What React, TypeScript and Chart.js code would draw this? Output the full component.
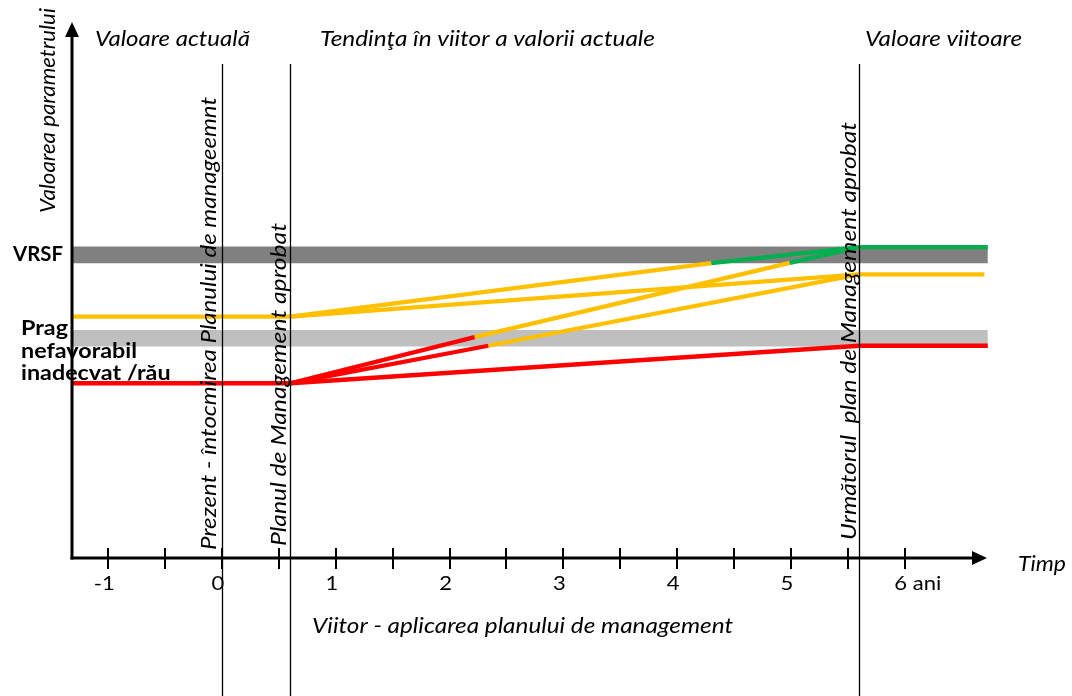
import React, { useEffect, useRef } from "react";
import { Chart, registerables } from "chart.js";

Chart.register(...registerables);

// ---------- DATA ----------
const X_MIN = -1.318;
const X_MAX = 6.749;
const Y_MIN = 0;
const Y_MAX = 100;

const tickValues = [-1, -0.5, 0, 0.5, 1, 1.5, 2, 2.5, 3, 3.5, 4, 4.5, 5, 5.5, 6];
const tickLabelValues = [-1, 0, 1, 2, 3, 4, 5, 6];
const tickLabels = ["-1", "0", "1", "2", "3", "4", "5", "6 ani"];

const markerX = [0, 0.6, 5.6];
const markerLabels = [
  "Prezent - întocmirea Planului de manageemnt",
  "Planul de Management aprobat",
  "Următorul  plan de Management aprobat",
];

const bandX = [-1.318, 6.73];
const vrsfBand = [55.0, 58.1];
const pragBand = [39.45, 42.55];

const currentYellow = [[-1.31, 45.05], [0.6, 45.05]];
const currentRed = [[-1.31, 32.6], [0.6, 32.6]];

const s1Yellow = [[0.6, 45.05], [4.3, 55.0]];
const s1Green = [[4.3, 55.0], [5.6, 58.0]];
const s2Yellow = [[0.6, 45.05], [5.6, 52.9]];
const s3Red = [[0.6, 32.6], [2.22, 41.2]];
const s3Yellow = [[2.22, 41.2], [4.99, 55.05]];
const s3Green = [[4.99, 55.05], [5.6, 58.0]];
const s4Red = [[0.6, 32.6], [2.34, 39.6]];
const s4Yellow = [[2.34, 39.6], [5.6, 52.9]];
const s5Red = [[0.6, 32.6], [5.6, 39.6]];

const futureGreen = [[5.6, 58.0], [6.73, 58.0]];
const futureYellow = [[5.6, 52.9], [6.7, 52.9]];
const futureRed = [[5.6, 39.6], [6.73, 39.6]];

// ---------- STYLE / LAYOUT ----------
const FONT = 'Lato, "Open Sans", sans-serif';
const YELLOW = "#FFC000";
const RED = "#FF0000";
const GREEN = "#00B050";
const DARK = "#808080";
const LIGHT = "#BFBFBF";

const headerTexts = [
  { text: "Valoare actuală", x: 95, y: 46, w: 155 },
  { text: "Tendinţa în viitor a valorii actuale", x: 320, y: 46, w: 335 },
  { text: "Valoare viitoare", x: 865, y: 46, w: 157 },
];
const markerTextLayout = [
  { dx: -6, y0: 550, w: 453 },
  { dx: -4, y0: 546, w: 323 },
  { dx: -3, y0: 540, w: 418 },
];

function pts(a: number[][]) {
  return a.map(([x, y]) => ({ x, y }));
}

function lineDs(a: number[][], color: string, order = 1) {
  return {
    data: pts(a),
    borderColor: color,
    borderWidth: 4.3,
    pointRadius: 0,
    fill: false,
    order,
    borderCapStyle: "butt",
  } as any;
}

function bandDs(band: number[], color: string) {
  return {
    data: bandX.map((x) => ({ x, y: band[1] })),
    borderColor: "rgba(0,0,0,0)",
    borderWidth: 0,
    pointRadius: 0,
    backgroundColor: color,
    fill: { value: band[0] },
    order: 20,
  } as any;
}

// draw text at a given font size, horizontally scaled to a target width
function drawText(
  c: CanvasRenderingContext2D,
  text: string,
  x: number,
  y: number,
  size: number,
  style: string,
  weight: string,
  target: number,
  rotate = false,
  align: CanvasTextAlign = "left"
) {
  c.save();
  c.font = `${style} ${weight} ${size}px ${FONT}`;
  const w = c.measureText(text).width;
  const sx = target > 0 ? target / w : 1;
  c.translate(x, y);
  if (rotate) c.rotate(-Math.PI / 2);
  c.scale(sx, 1);
  c.textAlign = align;
  c.textBaseline = "alphabetic";
  c.fillText(text, 0, 0);
  c.restore();
}

const overlay = {
  id: "overlay",
  afterDatasetsDraw(chart: any) {
    const { ctx, chartArea: ca, scales } = chart;
    const xs = scales.x;
    const c = ctx as CanvasRenderingContext2D;
    c.save();
    c.fillStyle = "#000";
    c.strokeStyle = "#000";

    // marker vertical lines
    c.lineWidth = 1.3;
    markerX.forEach((v) => {
      const px = Math.round(xs.getPixelForValue(v)) + 0.5;
      c.beginPath();
      c.moveTo(px, 64);
      c.lineTo(px, 696);
      c.stroke();
    });

    // marker labels (rotated)
    markerX.forEach((v, i) => {
      const L = markerTextLayout[i];
      drawText(c, markerLabels[i], xs.getPixelForValue(v) + L.dx, L.y0, 21, "italic", "normal", L.w, true);
    });

    // axes
    const x0 = ca.left;
    const yb = ca.bottom;
    const tip = ca.right - 3;
    c.lineWidth = 3;
    c.beginPath();
    c.moveTo(x0, yb + 1.5);
    c.lineTo(x0, ca.top + 12);
    c.stroke();
    c.beginPath();
    c.moveTo(x0, ca.top);
    c.lineTo(x0 - 7, ca.top + 15);
    c.lineTo(x0 + 7, ca.top + 15);
    c.closePath();
    c.fill();

    c.beginPath();
    c.moveTo(x0 - 1.5, yb);
    c.lineTo(tip - 12, yb);
    c.stroke();
    c.beginPath();
    c.moveTo(tip, yb);
    c.lineTo(tip - 15, yb - 7);
    c.lineTo(tip - 15, yb + 7);
    c.closePath();
    c.fill();

    // ticks
    c.lineWidth = 2;
    tickValues.forEach((v) => {
      const px = Math.round(xs.getPixelForValue(v));
      c.beginPath();
      c.moveTo(px, yb - 10);
      c.lineTo(px, yb + 11);
      c.stroke();
    });

    // tick labels
    const TS = 20;
    c.font = `normal normal ${TS}px ${FONT}`;
    const sixW = c.measureText("6 ani").width;
    const tsx = 47 / sixW;
    tickLabelValues.forEach((v, i) => {
      const px = xs.getPixelForValue(v) - 4;
      const lab = tickLabels[i];
      c.font = `normal normal ${TS}px ${FONT}`;
      const w = c.measureText(lab).width * tsx;
      if (lab.includes(" ")) {
        const fw = c.measureText(lab.split(" ")[0]).width * tsx;
        drawText(c, lab, px - fw / 2, 590, TS, "normal", "normal", w);
      } else {
        drawText(c, lab, px - w / 2, 590, TS, "normal", "normal", w);
      }
    });

    // headers
    headerTexts.forEach((h) => {
      drawText(c, h.text, h.x, h.y, 22, "italic", "normal", h.w);
    });

    // axis titles
    drawText(c, "Timp", 1018, 571, 21.5, "italic", "normal", 48);
    drawText(c, "Viitor - aplicarea planului de management", 312, 633, 21.5, "italic", "normal", 421);
    drawText(c, "Valoarea parametrului", 55, 213, 21, "italic", "normal", 205, true);

    // threshold labels
    drawText(c, "VRSF", 13, 261, 21, "normal", "bold", 50);
    c.font = `normal bold 21px ${FONT}`;
    const bsx = 116 / c.measureText("nefavorabil").width;
    ["Prag", "nefavorabil", "inadecvat /rău"].forEach((t, i) => {
      c.font = `normal bold 21px ${FONT}`;
      const w = c.measureText(t).width * bsx;
      drawText(c, t, 21, [335, 357.5, 380][i], 21, "normal", "bold", w);
    });

    c.restore();
  },
};

export default function App() {
  const ref = useRef<HTMLCanvasElement>(null);
  useEffect(() => {
    const canvas = ref.current!;
    const chart = new Chart(canvas, {
      type: "line",
      data: {
        datasets: [
          lineDs(futureGreen, GREEN, 1),
          lineDs(s1Green, GREEN, 1),
          lineDs(s3Green, GREEN, 1),
          lineDs(futureYellow, YELLOW, 2),
          lineDs(futureRed, RED, 2),
          lineDs(s1Yellow, YELLOW, 3),
          lineDs(s2Yellow, YELLOW, 3),
          lineDs(s3Yellow, YELLOW, 3),
          lineDs(s4Yellow, YELLOW, 3),
          lineDs(s3Red, RED, 2),
          lineDs(s4Red, RED, 2),
          lineDs(s5Red, RED, 2),
          lineDs(currentYellow, YELLOW, 3),
          lineDs(currentRed, RED, 3),
          bandDs(vrsfBand, DARK),
          bandDs(pragBand, LIGHT),
        ],
      },
      options: {
        animation: false,
        responsive: false,
        maintainAspectRatio: false,
        layout: { padding: { left: 72, right: 1072 - 990, top: 22, bottom: 696 - 558 } },
        plugins: { legend: { display: false }, tooltip: { enabled: false } },
        scales: {
          x: { type: "linear", min: X_MIN, max: X_MAX, display: false },
          y: { type: "linear", min: Y_MIN, max: Y_MAX, display: false },
        },
        elements: { point: { radius: 0 }, line: { tension: 0 } },
      },
      plugins: [overlay],
    } as any);
    return () => chart.destroy();
  }, []);
  return (
    <div style={{ position: "fixed", left: 0, top: 0, width: 1072, height: 696, background: "#fff" }}>
      <canvas ref={ref} width={1072} height={696} style={{ width: 1072, height: 696, display: "block" }} />
    </div>
  );
}
